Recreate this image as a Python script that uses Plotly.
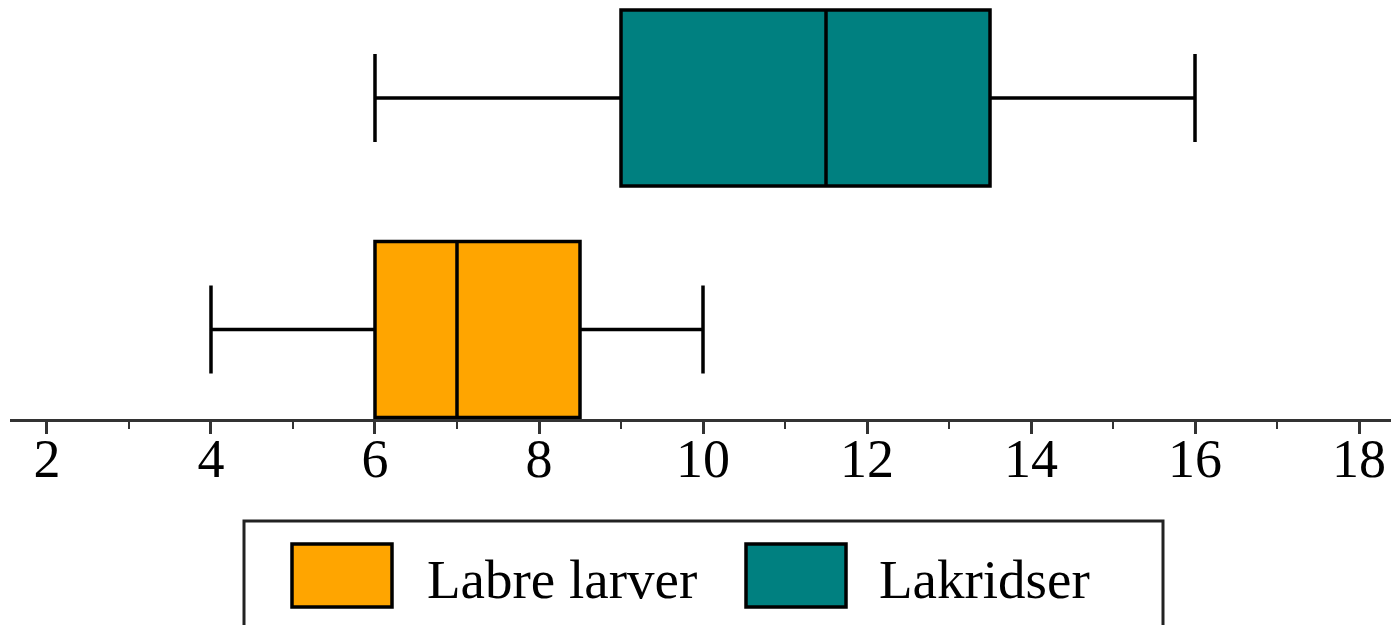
import plotly.graph_objects as go

# ---- data ----
categories = ["Labre larver", "Lakridser"]
positions = [0, 1]
lowerfence = [4, 6]
q1 = [6, 9]
median = [7, 11.5]
q3 = [8.5, 13.5]
upperfence = [10, 16]
colors = ["#FFA500", "#008080"]

W, H = 1391, 625
ML, MR, MT, MB = 10, 0, 0, 206
PW, PH = W - ML - MR, H - MT - MB


def px(xp):
    return (xp - ML) / PW


def py(yp):
    return (H - MB - yp) / PH


FONT = "Liberation Serif"

fig = go.Figure()
for i, cat in enumerate(categories):
    fig.add_trace(go.Box(
        name=cat,
        y=[positions[i]],
        q1=[q1[i]], median=[median[i]], q3=[q3[i]],
        lowerfence=[lowerfence[i]], upperfence=[upperfence[i]],
        orientation="h",
        fillcolor=colors[i],
        line=dict(color="black", width=3.5),
        whiskerwidth=0.5,
        width=0.76,
        boxpoints=False,
        showlegend=False,
        hoverinfo="skip",
    ))

shapes = []
annotations = []
# legend frame
shapes.append(dict(type="rect", xref="paper", yref="paper",
                   x0=px(244), x1=px(1163), y0=py(632), y1=py(521),
                   line=dict(color="#222", width=3), fillcolor="white", layer="below"))
legend_items = [
    (categories[0], colors[0], 292, 392, 425),
    (categories[1], colors[1], 746, 846, 877),
]
for name, col, x0, x1, tx in legend_items:
    shapes.append(dict(type="rect", xref="paper", yref="paper",
                       x0=px(x0), x1=px(x1), y0=py(607), y1=py(544),
                       line=dict(color="black", width=3.5), fillcolor=col))
    annotations.append(dict(xref="paper", yref="paper", x=px(tx), y=py(579),
                            xanchor="left", yanchor="middle", showarrow=False,
                            text=name, font=dict(family=FONT, size=55, color="black")))

fig.update_layout(
    width=W, height=H,
    margin=dict(l=ML, r=MR, t=MT, b=MB),
    paper_bgcolor="white", plot_bgcolor="white",
    boxmode="overlay",
    shapes=shapes,
    annotations=annotations,
    xaxis=dict(
        range=[1.549, 18.39],
        tick0=2, dtick=2,
        ticks="outside", ticklen=12, tickwidth=3, tickcolor="#333",
        showline=True, linecolor="#333", linewidth=3,
        showgrid=False, zeroline=False,
        tickfont=dict(family=FONT, size=54, color="black"),
        ticklabelstandoff=-22,
        minor=dict(dtick=1, tick0=1, ticks="outside", ticklen=7,
                   tickwidth=2, tickcolor="#333", showgrid=False),
    ),
    yaxis=dict(range=[-0.387, 1.423], visible=False, showgrid=False, zeroline=False),
)

fig.write_html("out.html", config={"displayModeBar": False},
               post_script="document.body.style.margin='0';")
